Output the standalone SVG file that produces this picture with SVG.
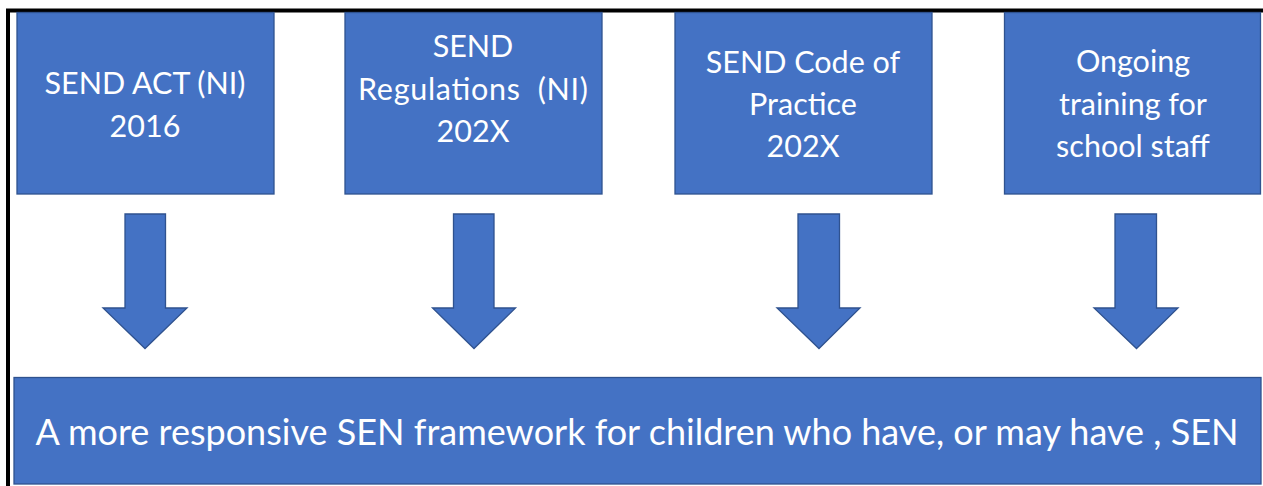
<svg xmlns="http://www.w3.org/2000/svg" width="1263" height="486" viewBox="0 0 1263 486">
  <style>
    .box { fill: #4472C4; stroke: #2F528F; stroke-width: 1.3; }
    .arrow { fill: #4472C4; stroke: #2F528F; stroke-width: 1.3; stroke-linejoin: miter; }
    .label { font-family: Lato, "Open Sans", sans-serif; font-size: 30.5px; fill: #FFFFFF; text-anchor: middle; }
    .big { font-size: 36px; }
    .frame { stroke: #000000; stroke-width: 4; fill: none; }
  </style>
  <rect width="1263" height="486" fill="#FFFFFF"/>

  <!-- outer frame: top and left rules only -->
  <path class="frame" d="M8 486 V10.5 H1263"/>

  <g id="node-act">
    <rect class="box" x="17" y="12.5" width="257" height="181.5"/>
    <text class="label" x="145" y="94">SEND ACT (NI)</text>
    <text class="label" x="145" y="136.7">2016</text>
  </g>

  <g id="node-regulations">
    <rect class="box" x="345" y="12.5" width="257" height="181.5"/>
    <text class="label" x="473" y="56.7">SEND</text>
    <text class="label" x="473" y="100" xml:space="preserve" textLength="230" lengthAdjust="spacing">Regulations  (NI)</text>
    <text class="label" x="473" y="141.7">202X</text>
  </g>

  <g id="node-code">
    <rect class="box" x="675" y="12.5" width="257" height="181.5"/>
    <text class="label" x="803" y="73.3">SEND Code of</text>
    <text class="label" x="803" y="115">Practice</text>
    <text class="label" x="803" y="156.7">202X</text>
  </g>

  <g id="node-training">
    <rect class="box" x="1004.5" y="12.5" width="256" height="181.5"/>
    <text class="label" x="1133" y="72.3">Ongoing</text>
    <text class="label" x="1133" y="115">training for</text>
    <text class="label" x="1133" y="156.7">school staff</text>
  </g>

  <g id="node-framework">
    <rect class="box" x="14" y="377.5" width="1247" height="106.5"/>
    <text class="label big" x="637" y="445" textLength="1203" lengthAdjust="spacing">A more responsive SEN framework for children who have, or may have , SEN</text>
  </g>

  <g id="connectors">
    <path class="arrow" d="M125 214 H165.5 V308 H187 L145 348.5 L103 308 H125 Z"/>
    <path class="arrow" d="M453.5 214 H494 V308 H515.5 L474 348.5 L432.5 308 H453.5 Z"/>
    <path class="arrow" d="M798 214 H839.5 V308 H860 L819 348.5 L777 308 H798 Z"/>
    <path class="arrow" d="M1115 214 H1156.5 V308 H1178 L1136.5 348.5 L1094 308 H1115 Z"/>
  </g>
</svg>
